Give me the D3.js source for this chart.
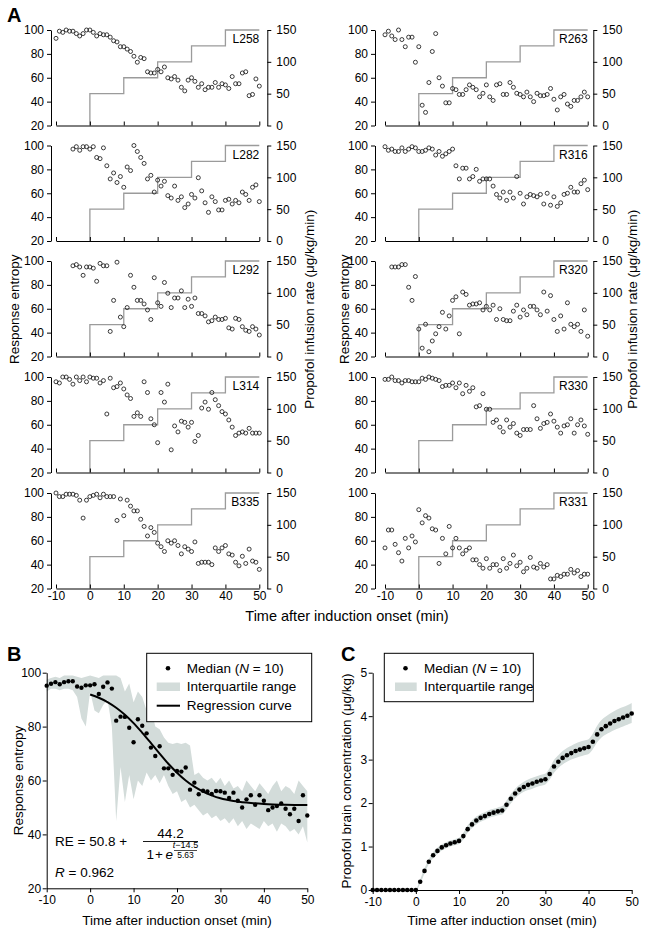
<!DOCTYPE html>
<html><head><meta charset="utf-8">
<script src="https://cdn.jsdelivr.net/npm/d3@7"></script>
<style>
body{margin:0;background:#fff}
svg{display:block}
text{font-family:"Liberation Sans",Arial,Helvetica,sans-serif}
</style>
</head><body>
<svg id="fig" width="645" height="931"></svg>
<script>
// ---------- data ----------
const times = d3.range(-10, 51);            // minutes, 1-min bins
const tickTimes = [-10, 0, 10, 20, 30, 40, 50];
const entropyTicks = [20, 40, 60, 80, 100];
const rateTicks = [0, 50, 100, 150];
const rateTimes  = [0, 0, 10, 20, 30, 40, 50];
const rateValues = [0, 50, 75, 100, 125, 150, 150];

const L258 = [93,99,98,100,99,99,97,95,97,100,100, 98,95,97,96,96,94,91,90,86,86, 84,82,78,73,77,76,65,64,64,67, 65,69,60,59,61,58,52,49,58,60, 57,52,55,50,52,52,56,52,55,54, 51,61,55,55,64,65,45,46,59,53];
const R263 = [96,99,95,92,100,92,86,94,94,73,86, 37,31,56,82,97,60,53,39,39,51, 50,46,46,50,54,52,50,44,47,54, 44,41,54,55,46,46,56,52,47,46, 44,48,44,40,47,45,45,46,51,42, 33,44,46,38,36,41,41,44,48,44];
const L282 = [null,null,null,null,null, 97,99,96,99,99,97,99, 90,89,98,83,72,77,69,74,65, 82,79,100,95,90,85,72,75,61,71, 66,70,58,56,66,54,57,48,51,59, 56,73,62,52,44,57,53,46,46,54, 55,51,54,52,61,59,54,65,67,53];
const R316 = [99,96,97,95,95,98,95,97,99,98,95, 95,96,98,97,92,95,91,93,95,97, 83,72,81,81,72,74,80,70,72,72, 72,66,59,56,61,54,61,56,74, 60,51,57,59,58,57,59,51,60,50,57,49,52,59,60,65,61,61,68,71,63];
const L292 = [null,null,null,null,null, 96,97,95,88,95,95,94,83,98,96, 96,41,67,99,53,45,61,88,78,67, 67,64,59,51,86,65,62,82,73,61, 69,69,75,61,68,62,69,56,56,54, 49,50,53,51,51,52,44,43,52,51, 45,42,41,45,43,38];
const R320 = [null,null, 95,95,95,97,97,78,67,87,43, 27,47,24,33,39,45,57,43,54,67, 70,39,74,72,63,64,64,65,59,62, 59,63,51,60,51,50,50,58,63,53, 59,55,62,62,59,55,74,58,71,51, 41,54,43,65,47,45,47,41,59,37];
const L314 = [96,95,100,100,98,94,100,97,100,96,100, 99,99,95,97,69,99,91,92,95,90, 85,82,67,70,67,96,87,65,60,45, 87,79,94,39,59,54,63,62,58,62, 46,51,74,79,73,87,81,76,71,69, 64,58,51,53,54,53,57,53,53,53];
const R330 = [98,98,100,97,97,95,97,97,96,96,96, 99,98,100,99,98,97,92,93,93,95, 91,95,86,93,88,91,75,76,86,73, 73,62,64,58,54,64,58,61,53,51, 56,56,56,76,65,57,61,62,69,63, 58,53,59,60,65,53,60,64,59,52];
const B335 = [100,97,97,99,99,99,98,94,79,94,97, 98,99,96,99,97,97,97,77,95,81, 94,89,85,85,78,72,64,71,67,58, 55,51,60,58,60,56,49,55,53,51, 59,41,42,42,42,40,54,51,54,56, 49,48,42,39,47,41,53,43,42,36];
const R331 = [54,69,69,57,50,43,62,54,64,59,86, 75,81,79,70,69,41,62,49,72,54, 62,54,49,52,54,44,44,40,37,45, 37,40,40,35,45,37,41,48,39,42, 34,37,46,38,37,41,38,40,28,28, 31,30,32,32,36,33,35,30,32,32];

const subjectNames = ["L258","R263","L282","R316","L292","R320","L314","R330","B335","R331"];
const subjectData  = [L258, R263, L282, R316, L292, R320, L314, R330, B335, R331];

// Panel B: median response entropy and interquartile range
const reMedian = [95.2,95.9,96.5,95.7,96.5,96.8,96.8,94.9,94.4,95.3,95.3, 95.7,92.1,94.8,96.4,94.1,82.2,83.7,83.6,79.6,74.2, 82.7,80.3,77.5,72.2,69.1,72.7,64.5,64.5,62.1,63.5, 63.3,64.8,56.6,59.2,54.9,56.2,55.9,55,56.1,56, 55.5,53.5,55.5,52.5,50,53,54.5,51,54.5,52.5, 49,50,50.5,51.5,49.5,47.5,49.5,45,54.5,47];
const reUpper  = [97.5,98,98.5,98,99,99,99,98.5,98,98.5,99, 98.5,98,99,99,99,99,98,93,96,89, 93,91,86,87,80,79,76,74,73.5,74, 73.5,74,73,62,63,61,60,61,59,61, 58,60,57,58,56,60,58,56,59,57, 55,58,60,56,58,57,55,60,58,56];
const reLower  = [93,94,94,93.5,94,94,93.5,91,83,80,93, 86,85,88,90,80,45,65,52,62,53, 60,58,63,60,62,59,62,58,55,56, 52,53,50,51,49,47,48,46,47,45, 46,44,46,43,45,42,44,43,42,45, 43,44,41,44,43,41,42,40,43,37];
const regTimes = [0,2,4,6,8,10,12,14,16,18,20,22,24,26,28,30,33,36,40,45,50];
const regRE    = [91.9,90.7,89.1,87.0,84.4,81.3,77.7,73.9,70.0,66.2,62.9,60.0,57.7,55.9,54.5,53.4,52.4,51.8,51.3,51.0,50.9];

// Panel C: propofol brain concentration
const cMedian = [0,0,0,0,0,0,0,0,0,0,0, 0.19,0.44,0.65,0.8,0.9,0.98,1.03,1.07,1.1,1.13, 1.24,1.4,1.51,1.6,1.66,1.7,1.75,1.78,1.81,1.83, 1.96,2.1,2.22,2.31,2.37,2.42,2.45,2.49,2.52,2.55, 2.67,2.84,2.95,3.04,3.1,3.15,3.2,3.23,3.26,3.29, 3.41,3.58,3.7,3.77,3.83,3.89,3.93,3.97,4.01,4.06];
const cUpper  = [0.01,0.01,0.01,0.01,0.01,0.01,0.01,0.01,0.01,0.01,0.02, 0.24,0.5,0.71,0.87,0.97,1.05,1.1,1.14,1.17,1.2, 1.32,1.49,1.6,1.69,1.75,1.79,1.84,1.87,1.9,1.93, 2.06,2.21,2.33,2.42,2.49,2.54,2.58,2.62,2.65,2.68, 2.81,2.99,3.1,3.2,3.27,3.32,3.37,3.41,3.44,3.47, 3.6,3.78,3.91,3.99,4.06,4.12,4.17,4.21,4.25,4.3];
const cLower  = [0,0,0,0,0,0,0,0,0,0,0, 0.14,0.38,0.59,0.73,0.83,0.91,0.96,1.0,1.03,1.06, 1.16,1.32,1.42,1.51,1.57,1.61,1.66,1.69,1.72,1.74, 1.86,1.99,2.11,2.2,2.26,2.3,2.33,2.37,2.4,2.43, 2.54,2.7,2.81,2.89,2.95,3.0,3.04,3.07,3.1,3.13, 3.24,3.4,3.51,3.58,3.63,3.68,3.72,3.76,3.8,3.84];

// ---------- drawing ----------
const svg = d3.select("#fig");
svg.append("rect").attr("width",645).attr("height",931).attr("fill","#fff");
const FONT = '"Liberation Sans",Arial,Helvetica,sans-serif';
const BAND = "#d3dcda";
const fmt = d => String(d);

function styleAxis(g, size){
  g.attr("font-family", FONT).attr("font-size", size || 12);
  g.selectAll("path,line").attr("stroke","#000").attr("stroke-width",1);
  g.selectAll("text").attr("fill","#000");
}

// Panel A
const cols = [
  {aL:51,  x0:56,  x1:259.3, aR:267.3},
  {aL:375, x0:385, x1:587.7, aR:593.3}
];
const rowTops = [30, 145.5, 261, 377, 493];
const rowH = 95.5;

subjectNames.forEach((name, k) => {
  const row = Math.floor(k/2), col = k % 2;
  const c = cols[col], top = rowTops[row], bot = top + rowH;
  const x  = d3.scaleLinear().domain([-10,50]).range([c.x0, c.x1]);
  const yL = d3.scaleLinear().domain([20,100]).range([bot, top]);
  const yR = d3.scaleLinear().domain([0,150]).range([bot, top]);
  const g = svg.append("g");

  // infusion rate staircase
  const step = d3.line().x((d,i)=>x(rateTimes[i])).y((d,i)=>yR(rateValues[i])).curve(d3.curveStepAfter);
  g.append("path").datum(rateTimes).attr("d", step)
    .attr("fill","none").attr("stroke","#9b9b9b").attr("stroke-width",1.3);

  // axes
  styleAxis(g.append("g").attr("transform",`translate(${c.aL},0)`)
    .call(d3.axisLeft(yL).tickValues(entropyTicks).tickSizeInner(4).tickSizeOuter(0).tickPadding(3).tickFormat(fmt)));
  styleAxis(g.append("g").attr("transform",`translate(${c.aR},0)`)
    .call(d3.axisRight(yR).tickValues(rateTicks).tickSizeInner(4).tickSizeOuter(0).tickPadding(5).tickFormat(fmt)));
  styleAxis(g.append("g").attr("transform",`translate(0,${bot})`)
    .call(d3.axisBottom(x).tickValues(tickTimes).tickSizeInner(-4).tickSizeOuter(0).tickPadding(3)
      .tickFormat(row === 4 ? fmt : () => "")));

  // response entropy points
  const data = subjectData[k];
  g.selectAll("circle.pt").data(times.map((t,i)=>({t, v:data[i]})).filter(d => d.v != null))
    .join("circle").attr("class","pt")
    .attr("cx", d => x(d.t)).attr("cy", d => yL(d.v)).attr("r", 2)
    .attr("fill","none").attr("stroke","#1a1a1a").attr("stroke-width",0.85);

  g.append("text").attr("x", x(50)).attr("y", top + 13).attr("text-anchor","end")
    .attr("font-size", 12).text(name);
});

// panel A titles
function vText(xc, yc, txt, size){
  svg.append("text").attr("transform",`translate(${xc},${yc}) rotate(-90)`)
    .attr("text-anchor","middle").attr("dy","0.35em").attr("font-size",size).text(txt);
}
const aMid = (rowTops[0] + rowTops[4] + rowH)/2;
vText(14, aMid, "Response entropy", 13.5);
vText(344, aMid, "Response entropy", 13.5);
vText(309, aMid, "Propofol infusion rate (μg/kg/min)", 13.5);
vText(632, aMid, "Propofol infusion rate (μg/kg/min)", 13.5);
svg.append("text").attr("x", 347).attr("y", 621).attr("text-anchor","middle")
  .attr("font-size", 14.5).text("Time after induction onset (min)");
svg.append("text").attr("x", 7).attr("y", 22).attr("font-size", 20).attr("font-weight","bold").text("A");

// Panel B
{
  const x = d3.scaleLinear().domain([-10,50]).range([46.7, 307.3]);
  const y = d3.scaleLinear().domain([20,100]).range([888.3, 672.7]);
  const g = svg.append("g");
  const area = d3.area().x((d,i)=>x(times[i])).y0((d,i)=>y(reLower[i])).y1((d,i)=>y(reUpper[i]));
  g.append("path").datum(times).attr("d", area).attr("fill", BAND);
  const line = d3.line().x((d,i)=>x(regTimes[i])).y((d,i)=>y(regRE[i])).curve(d3.curveMonotoneX);
  g.append("path").datum(regTimes).attr("d", line).attr("fill","none").attr("stroke","#000").attr("stroke-width",2);
  g.selectAll("circle.md").data(times.map((t,i)=>({t, v:reMedian[i]}))).join("circle").attr("class","md")
    .attr("cx", d=>x(d.t)).attr("cy", d=>y(d.v)).attr("r", 2.2).attr("fill","#000");
  styleAxis(g.append("g").attr("transform",`translate(${x(-10)},0)`)
    .call(d3.axisLeft(y).tickValues(entropyTicks).tickSizeInner(4).tickSizeOuter(0).tickPadding(1.5).tickFormat(fmt)));
  styleAxis(g.append("g").attr("transform",`translate(0,${y(20)})`)
    .call(d3.axisBottom(x).tickValues(tickTimes).tickSizeInner(4).tickSizeOuter(0).tickPadding(3).tickFormat(fmt)));

  // legend
  const lg = g.append("g");
  lg.append("rect").attr("x",146.7).attr("y",653.3).attr("width",165).attr("height",68.4)
    .attr("fill","#fff").attr("stroke","#000").attr("stroke-width",1);
  lg.append("circle").attr("cx",168).attr("cy",668.3).attr("r",2.3).attr("fill","#000");
  lg.append("rect").attr("x",156.7).attr("y",682.5).attr("width",23.3).attr("height",8.5).attr("fill",BAND);
  lg.append("line").attr("x1",156.7).attr("x2",180).attr("y1",705.7).attr("y2",705.7).attr("stroke","#000").attr("stroke-width",2);
  const t1 = lg.append("text").attr("x",186.7).attr("y",668.3).attr("dy","0.35em").attr("font-size",13.5);
  t1.append("tspan").text("Median (");
  t1.append("tspan").attr("font-style","italic").text("N");
  t1.append("tspan").text(" = 10)");
  lg.append("text").attr("x",186.7).attr("y",686.7).attr("dy","0.35em").attr("font-size",13.5).text("Interquartile range");
  lg.append("text").attr("x",186.7).attr("y",705.7).attr("dy","0.35em").attr("font-size",13.5).text("Regression curve");

  // equation
  const SERIF = '"DejaVu Serif","Liberation Serif",serif';
  const SERIF2 = '"Liberation Serif","DejaVu Serif",serif';
  g.append("text").attr("x",55).attr("y",845.5).attr("font-family",SERIF).attr("font-size",13.5).text("RE = 50.8 +");
  g.append("text").attr("x",170.5).attr("y",838).attr("text-anchor","middle").attr("font-family",SERIF).attr("font-size",13.5).text("44.2");
  g.append("line").attr("x1",143).attr("x2",198).attr("y1",841.5).attr("y2",841.5).attr("stroke","#000").attr("stroke-width",0.9);
  g.append("text").attr("x",146.5).attr("y",858.5).attr("font-family",SERIF).attr("font-size",13.5).text("1");
  g.append("text").attr("x",159).attr("y",858.5).attr("text-anchor","middle").attr("font-family",SERIF).attr("font-size",13.5).text("+");
  g.append("text").attr("x",165.5).attr("y",858.5).attr("font-family",SERIF).attr("font-style","italic").attr("font-size",13.5).text("e");
  const ex = g.append("text").attr("x",185.5).attr("y",848).attr("text-anchor","middle").attr("font-family",SERIF2).attr("font-size",9);
  ex.append("tspan").attr("font-style","italic").text("t");
  ex.append("tspan").text("−14.5");
  g.append("line").attr("x1",174).attr("x2",197).attr("y1",850.5).attr("y2",850.5).attr("stroke","#000").attr("stroke-width",0.7);
  g.append("text").attr("x",185.5).attr("y",857.5).attr("text-anchor","middle").attr("font-family",SERIF2).attr("font-size",8.5).text("5.63");
  const rt = g.append("text").attr("x",55).attr("y",876.5).attr("font-size",13.5);
  rt.append("tspan").attr("font-style","italic").text("R");
  rt.append("tspan").text(" = 0.962");

  vText(18.3, 780.5, "Response entropy", 13.5);
  svg.append("text").attr("x",177).attr("y",925).attr("text-anchor","middle").attr("font-size",13.5).text("Time after induction onset (min)");
  svg.append("text").attr("x",7).attr("y",661).attr("font-size",20).attr("font-weight","bold").text("B");
}

// Panel C
{
  const x = d3.scaleLinear().domain([-10,50]).range([372.7, 631.7]);
  const y = d3.scaleLinear().domain([0,5]).range([890, 672.7]);
  const g = svg.append("g");
  const area = d3.area().x((d,i)=>x(times[i])).y0((d,i)=>y(cLower[i])).y1((d,i)=>y(cUpper[i])).curve(d3.curveMonotoneX);
  g.append("path").datum(times).attr("d", area).attr("fill", BAND);
  g.selectAll("circle.md").data(times.map((t,i)=>({t, v:cMedian[i]}))).join("circle").attr("class","md")
    .attr("cx", d=>x(d.t)).attr("cy", d=>y(d.v)).attr("r", 2.3).attr("fill","#000");
  styleAxis(g.append("g").attr("transform",`translate(${x(-10)},0)`)
    .call(d3.axisLeft(y).tickValues([0,1,2,3,4,5]).tickSizeInner(4).tickSizeOuter(0).tickPadding(1.5).tickFormat(fmt)));
  styleAxis(g.append("g").attr("transform",`translate(0,${y(0)})`)
    .call(d3.axisBottom(x).tickValues(tickTimes).tickSizeInner(4).tickSizeOuter(0).tickPadding(3).tickFormat(fmt)));

  const lg = g.append("g");
  lg.append("rect").attr("x",384.3).attr("y",653.3).attr("width",149).attr("height",48.4)
    .attr("fill","#fff").attr("stroke","#000").attr("stroke-width",1);
  lg.append("circle").attr("cx",405.5).attr("cy",668.3).attr("r",2.3).attr("fill","#000");
  lg.append("rect").attr("x",395).attr("y",682.5).attr("width",21.7).attr("height",8.5).attr("fill",BAND);
  const t1 = lg.append("text").attr("x",424).attr("y",668.3).attr("dy","0.35em").attr("font-size",13.5);
  t1.append("tspan").text("Median (");
  t1.append("tspan").attr("font-style","italic").text("N");
  t1.append("tspan").text(" = 10)");
  lg.append("text").attr("x",424).attr("y",686.7).attr("dy","0.35em").attr("font-size",13.5).text("Interquartile range");

  vText(346.7, 781, "Propofol brain concentration (μg/kg)", 13.5);
  svg.append("text").attr("x",502).attr("y",925).attr("text-anchor","middle").attr("font-size",13.5).text("Time after induction onset (min)");
  svg.append("text").attr("x",341).attr("y",661).attr("font-size",20).attr("font-weight","bold").text("C");
}
</script>
</body></html>
